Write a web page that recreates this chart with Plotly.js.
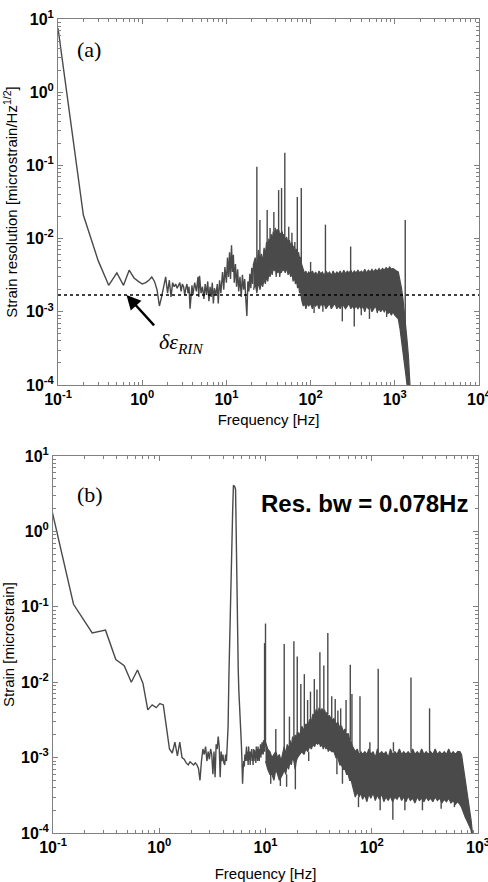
<!DOCTYPE html>
<html>
<head>
<meta charset="utf-8">
<script src="https://cdn.plot.ly/plotly-3.0.1.min.js"></script>
<style>
  html, body { margin: 0; padding: 0; background: #fff; }
  #chart { width: 488px; height: 882px; }
</style>
</head>
<body>
<div id="chart"></div>
<script>
// ---------- (a) strain resolution spectrum ----------
const aLineFreq = [0.1, 0.2, 0.3, 0.4, 0.5, 0.6, 0.7, 0.8, 0.9, 1.0,
  1.1, 1.2, 1.3, 1.4, 1.5, 1.6, 1.7, 1.8, 1.9, 2.0,
  2.1, 2.2, 2.3, 2.4, 2.5, 2.6, 2.7, 2.8, 2.9, 3.0,
  3.1, 3.2, 3.3, 3.4, 3.5, 3.6, 3.7, 3.8, 3.9, 4.0,
  4.2, 4.4, 4.6, 4.7, 4.8, 5.0, 5.2, 5.4, 5.6, 5.8,
  6.0, 6.2, 6.4, 6.6, 6.8, 7.0, 7.2, 7.5, 7.8, 8.0,
  8.3, 8.6, 9.0, 9.3, 9.6, 10.0, 10.3, 10.6, 10.9, 11.2,
  11.5, 11.8, 12.1, 12.4, 12.8, 13.2, 13.6, 14.0, 14.5, 15.0,
  15.5, 16.0, 16.5, 17.0, 17.5, 18.0, 18.5, 19.0, 19.5, 20.0,
  20.5, 21.0];
const aLineVal = [7.5, 0.021, 0.0050, 0.0023, 0.0034, 0.0023, 0.0037, 0.0029, 0.0026, 0.0024,
  0.0025, 0.0027, 0.0030, 0.0026, 0.0020, 0.0012, 0.0016, 0.0021, 0.0030, 0.0018,
  0.0027, 0.0016, 0.0025, 0.0022, 0.0024, 0.0021, 0.0023, 0.0025, 0.0019, 0.0024,
  0.0022, 0.0017, 0.0021, 0.0024, 0.0018, 0.0022, 0.0011, 0.0020, 0.0023, 0.0017,
  0.0025, 0.0019, 0.0030, 0.0016, 0.0031, 0.0018, 0.0022, 0.0015, 0.0024, 0.0017,
  0.0026, 0.0014, 0.0022, 0.0016, 0.0025, 0.0013, 0.0021, 0.0017, 0.0024, 0.0013,
  0.0027, 0.0018, 0.0035, 0.0020, 0.0041, 0.0025, 0.0055, 0.0030, 0.0065, 0.0028,
  0.0081, 0.0035, 0.0060, 0.0025, 0.0045, 0.0022, 0.0038, 0.0019, 0.0030, 0.0016,
  0.0032, 0.0020, 0.0028, 0.0015, 0.00088, 0.0026, 0.0019, 0.0033, 0.0021, 0.0040,
  0.0024, 0.0045];

const aBandFreq = [21, 22, 23, 24, 25, 26, 27, 28, 29, 30,
  31, 32, 33, 34, 35, 36, 37, 38, 39, 40,
  41, 42, 43, 44, 45, 46, 47, 48, 50, 52,
  54, 56, 58, 60, 62, 64, 66, 68, 70, 72,
  74, 76, 78, 80, 82, 85, 88, 91, 95, 100,
  105, 110, 115, 120, 126, 132, 138, 145, 152, 160,
  168, 176, 185, 195, 205, 215, 225, 236, 248, 260,
  273, 287, 300, 315, 330, 347, 365, 383, 400, 420,
  440, 460, 485, 510, 535, 560, 590, 620, 650, 680,
  715, 750, 790, 830, 870, 910, 950, 1000, 1050, 1100,
  1150, 1200, 1250, 1300, 1350, 1400, 1450, 1500, 1550];
const aBandHi = [0.0045, 0.0055, 0.0040, 0.0070, 0.0050, 0.0062, 0.0048, 0.0075, 0.0060, 0.0090,
  0.0070, 0.0100, 0.0085, 0.0115, 0.0095, 0.0125, 0.0105, 0.0140, 0.0110, 0.0135,
  0.0115, 0.0130, 0.0105, 0.0120, 0.0100, 0.0125, 0.0105, 0.0115, 0.0095, 0.0105,
  0.0085, 0.0095, 0.0080, 0.0088, 0.0072, 0.0080, 0.0065, 0.0072, 0.0060, 0.0065,
  0.0052, 0.0056, 0.0045, 0.0040, 0.0036, 0.0033, 0.0036, 0.0032, 0.0035, 0.0033,
  0.0036, 0.0032, 0.0035, 0.0031, 0.0036, 0.0033, 0.0035, 0.0031, 0.0036, 0.0033,
  0.0035, 0.0031, 0.0036, 0.0032, 0.0035, 0.0033, 0.0036, 0.0032, 0.0037, 0.0033,
  0.0036, 0.0034, 0.0037, 0.0033, 0.0036, 0.0034, 0.0037, 0.0034, 0.0036, 0.0034,
  0.0038, 0.0034, 0.0037, 0.0035, 0.0038, 0.0035, 0.0038, 0.0036, 0.0039, 0.0036,
  0.0039, 0.0037, 0.0040, 0.0038, 0.0041, 0.0038, 0.0039, 0.0037, 0.0036, 0.0035,
  0.0028, 0.0021, 0.0015, 0.0010, 0.00065, 0.00040, 0.00025, 0.00015, 0.00009];
const aBandLo = [0.0020, 0.0024, 0.0018, 0.0026, 0.0020, 0.0025, 0.0022, 0.0028, 0.0024, 0.0030,
  0.0026, 0.0034, 0.0030, 0.0038, 0.0032, 0.0042, 0.0036, 0.0044, 0.0030, 0.0040,
  0.0034, 0.0042, 0.0030, 0.0038, 0.0034, 0.0042, 0.0036, 0.0040, 0.0034, 0.0040,
  0.0032, 0.0036, 0.0030, 0.0034, 0.0026, 0.0030, 0.0024, 0.0027, 0.0021, 0.0024,
  0.0018, 0.0020, 0.0015, 0.0013, 0.0012, 0.0013, 0.0011, 0.0013, 0.0012, 0.0013,
  0.0011, 0.0013, 0.0012, 0.0013, 0.0011, 0.0013, 0.0012, 0.0013, 0.0011, 0.0012,
  0.0013, 0.0011, 0.0012, 0.0013, 0.0011, 0.0012, 0.0011, 0.0013, 0.0012, 0.0011,
  0.0012, 0.0013, 0.0011, 0.0012, 0.0011, 0.0012, 0.0011, 0.0012, 0.0011, 0.0012,
  0.0010, 0.0012, 0.0011, 0.0012, 0.0010, 0.0011, 0.0012, 0.0010, 0.0011, 0.0010,
  0.0011, 0.0010, 0.0011, 0.00095, 0.0010, 0.0009, 0.0010, 0.0009, 0.00085, 0.0008,
  0.0006, 0.00045, 0.0003, 0.0002, 0.00014, 0.0001, 0.00008, 0.00007, 0.00006];

const aSpikeFreq = [23, 25, 30.5, 33, 36.6, 41.7, 45.2, 49.4, 55, 60,
  65, 69.5, 77.5, 100, 150, 299, 1330];
const aSpikeBase = [0.004, 0.005, 0.006, 0.007, 0.008, 0.009, 0.009, 0.009, 0.007, 0.006,
  0.005, 0.005, 0.004, 0.003, 0.003, 0.003, 0.0003];
const aSpikeTop = [0.096, 0.018, 0.0245, 0.014, 0.023, 0.046, 0.049, 0.149, 0.0145, 0.012,
  0.009, 0.037, 0.049, 0.0048, 0.0155, 0.0078, 0.018];

const aDipFreq = [110, 140, 238, 330, 400, 500, 620, 800];
const aDipTop = [0.0013, 0.0013, 0.0013, 0.0012, 0.0012, 0.0012, 0.0011, 0.0011];
const aDipLow = [0.00096, 0.0010, 0.00074, 0.00063, 0.0009, 0.0008, 0.00096, 0.00085];

const rinLevel = 0.0017;   // RIN-limited resolution (dotted line)
const rinSpan = [0.1, 10000];
const rinArrowFreq = 0.65;

// ---------- (b) strain spectrum ----------
const bLineFreq = [0.078, 0.156, 0.234, 0.312, 0.390, 0.468, 0.546, 0.624, 0.702, 0.780,
  0.858, 0.936, 1.014, 1.092, 1.170, 1.248, 1.326, 1.404, 1.482, 1.560,
  1.638, 1.716, 1.794, 1.872, 1.950, 2.028, 2.106, 2.184, 2.262, 2.340,
  2.418, 2.496, 2.574, 2.652, 2.730, 2.808, 2.886, 2.964, 3.042, 3.120,
  3.198, 3.276, 3.354, 3.432, 3.510, 3.588, 3.666, 3.744, 3.822, 3.900,
  3.978, 4.056, 4.134, 4.212, 4.290, 4.368, 4.446, 4.524, 4.602, 4.680,
  4.758, 4.836, 4.914, 4.992, 5.070, 5.148, 5.226, 5.304, 5.382, 5.460,
  5.538, 5.616, 5.694, 5.772, 5.850, 5.928, 6.006, 6.084, 6.162, 6.240,
  6.318, 6.396, 6.474, 6.552, 6.630, 6.708, 6.786, 6.864, 6.942, 7.020,
  7.098, 7.176, 7.254, 7.332, 7.410, 7.488, 7.566, 7.644, 7.722, 7.800,
  7.878, 7.956, 8.034, 8.112, 8.190, 8.268, 8.346, 8.424, 8.502, 8.580,
  8.658, 8.736, 8.814, 8.892, 8.970, 9.048, 9.126, 9.204, 9.282, 9.360,
  9.438, 9.516, 9.594, 9.672, 9.750, 9.828, 9.906, 9.984];
const bLineVal = [7.5, 0.108, 0.045, 0.049, 0.020, 0.0165, 0.0100, 0.0145, 0.0097, 0.0043,
  0.0050, 0.0046, 0.0052, 0.0050, 0.0025, 0.0013, 0.00115, 0.0016, 0.00105, 0.0016,
  0.0010, 0.00095, 0.00085, 0.0008, 0.00088, 0.00084, 0.0008, 0.00085, 0.0008, 0.00072,
  0.0005, 0.0009, 0.0013, 0.0011, 0.0014, 0.0009, 0.0012, 0.00095, 0.0013, 0.0011,
  0.0006, 0.0012, 0.00055, 0.0015, 0.0013, 0.0019, 0.0014, 0.00055, 0.0012, 0.0009,
  0.0011, 0.00085, 0.0008, 0.0011, 0.0009, 0.0015, 0.0026, 0.012, 0.040, 0.15,
  0.40, 0.77, 2.0, 4.1, 4.0, 3.9, 3.6, 0.6, 0.11, 0.040,
  0.0145, 0.0075, 0.0053, 0.0035, 0.0026, 0.0015, 0.0009, 0.00045, 0.0007, 0.0009,
  0.00076, 0.0011, 0.0009, 0.00103, 0.0014, 0.0009, 0.0012, 0.0008, 0.0014, 0.00093,
  0.0012, 0.0008, 0.0012, 0.00103, 0.0013, 0.0009, 0.0011, 0.0008, 0.0013, 0.0010,
  0.00126, 0.0009, 0.0012, 0.00085, 0.0014, 0.0010, 0.0013, 0.0009, 0.0014, 0.0010,
  0.0012, 0.0009, 0.0013, 0.0011, 0.0015, 0.0010, 0.0014, 0.0011, 0.0016, 0.0012,
  0.0015, 0.0011, 0.0017, 0.0013, 0.0016, 0.0012, 0.0016, 0.0014];

const bBandFreq = [10, 10.5, 11, 11.5, 12, 12.5, 13, 13.5, 14, 14.5,
  15, 15.5, 16, 16.5, 17, 17.5, 18, 18.5, 19, 19.5,
  20, 21, 22, 23, 24, 25, 26, 27, 28, 29,
  30, 31, 32, 33, 34, 35, 36, 37, 38, 39,
  40, 42, 44, 46, 48, 50, 52, 54, 56, 58,
  60, 62, 64, 66, 68, 70, 73, 76, 79, 82,
  86, 90, 94, 98, 103, 108, 113, 118, 124, 130,
  136, 143, 150, 157, 165, 173, 182, 191, 200, 210,
  220, 231, 243, 255, 268, 281, 295, 310, 325, 341,
  358, 376, 395, 415, 436, 458, 481, 505, 530, 556,
  584, 613, 643, 675, 700, 720, 740, 760, 780, 800,
  820, 840, 860, 880, 900];
const bBandHi = [0.0016, 0.0013, 0.0012, 0.0010, 0.0011, 0.0012, 0.0010, 0.0011, 0.0009, 0.0012,
  0.0014, 0.0011, 0.0015, 0.0013, 0.0017, 0.0014, 0.0019, 0.0016, 0.0020, 0.0018,
  0.0022, 0.0020, 0.0026, 0.0023, 0.0028, 0.0026, 0.0032, 0.0030, 0.0038, 0.0034,
  0.0044, 0.0038, 0.0046, 0.0040, 0.0045, 0.0039, 0.0043, 0.0037, 0.0040, 0.0035,
  0.0036, 0.0031, 0.0033, 0.0028, 0.0029, 0.0025, 0.0026, 0.0022, 0.0024, 0.0020,
  0.0021, 0.0017, 0.0016, 0.0014, 0.0013, 0.0012, 0.0013, 0.0011, 0.0012, 0.0011,
  0.0012, 0.0011, 0.0013, 0.0011, 0.0012, 0.0010, 0.0013, 0.0011, 0.0012, 0.0011,
  0.0012, 0.0010, 0.0013, 0.0011, 0.0012, 0.0011, 0.0013, 0.0011, 0.0012, 0.0011,
  0.0012, 0.0011, 0.0013, 0.0011, 0.0012, 0.0011, 0.0013, 0.0011, 0.0012, 0.0011,
  0.0012, 0.0011, 0.0013, 0.0011, 0.0012, 0.0011, 0.0012, 0.0011, 0.0013, 0.0011,
  0.0012, 0.0011, 0.0012, 0.0012, 0.0011, 0.00085, 0.00065, 0.0005, 0.0004, 0.00032,
  0.00026, 0.0002, 0.00015, 0.00011, 0.00008];
const bBandLo = [0.0009, 0.0007, 0.0006, 0.0006, 0.0005, 0.0007, 0.0006, 0.0005, 0.00055, 0.0006,
  0.0007, 0.0006, 0.0008, 0.0007, 0.0009, 0.0008, 0.0010, 0.0009, 0.0007, 0.0009,
  0.0010, 0.0011, 0.0012, 0.0011, 0.0013, 0.0012, 0.0014, 0.0013, 0.0015, 0.0014,
  0.0016, 0.0015, 0.0016, 0.0014, 0.0015, 0.0013, 0.0015, 0.0013, 0.0014, 0.0012,
  0.0013, 0.0012, 0.0012, 0.0010, 0.0010, 0.0008, 0.0008, 0.0007, 0.0007, 0.0006,
  0.0006, 0.0005, 0.0005, 0.0004, 0.00035, 0.0003, 0.00035, 0.0003, 0.00034, 0.00028,
  0.00032, 0.00026, 0.00033, 0.00029, 0.00034, 0.00027, 0.00032, 0.00028, 0.00033, 0.00026,
  0.00030, 0.00027, 0.00031, 0.00026, 0.00030, 0.00028, 0.00032, 0.00027, 0.00030, 0.00026,
  0.00031, 0.00027, 0.00029, 0.00025, 0.00030, 0.00027, 0.00029, 0.00026, 0.00030, 0.00027,
  0.00029, 0.00026, 0.00030, 0.00027, 0.00029, 0.00025, 0.00028, 0.00026, 0.00029, 0.00025,
  0.00027, 0.00024, 0.00026, 0.00024, 0.00022, 0.0002, 0.00018, 0.00016, 0.00015, 0.00014,
  0.00013, 0.00012, 0.00011, 0.00009, 0.00007];

const bSpikeFreq = [9.8, 10.0, 12.5, 15.0, 16.8, 18.5, 19.9, 21.5, 23.2, 24.9,
  26.5, 28.8, 30.5, 32.5, 35.4, 38.6, 42.0, 45.3, 48.0, 51.0,
  57.3, 62.8, 65.1, 77.5, 96, 115, 160, 234, 350];
const bSpikeBase = [0.0014, 0.0015, 0.0011, 0.0012, 0.0015, 0.0016, 0.0018, 0.0020, 0.0022, 0.0025,
  0.0030, 0.0035, 0.0040, 0.0040, 0.0040, 0.0038, 0.0030, 0.0028, 0.0027, 0.0025,
  0.0022, 0.0017, 0.0014, 0.0012, 0.0011, 0.0012, 0.0012, 0.0012, 0.0011];
const bSpikeTop = [0.033, 0.060, 0.0024, 0.032, 0.0035, 0.035, 0.022, 0.0095, 0.0128, 0.0058,
  0.0075, 0.011, 0.0080, 0.025, 0.0166, 0.045, 0.0065, 0.006, 0.0042, 0.0045,
  0.0058, 0.017, 0.007, 0.0065, 0.0016, 0.0151, 0.0016, 0.0115, 0.0045];

const bDipFreq = [11.2, 13.8, 15.8, 19.1, 25.5, 47, 53, 75, 120, 158, 205, 300, 450, 600];
const bDipTop = [0.0007, 0.0007, 0.0006, 0.0008, 0.0012, 0.0010, 0.0008, 0.0003, 0.0003, 0.0003, 0.0003, 0.0003, 0.0003, 0.0003];
const bDipLow = [0.00045, 0.00042, 0.00041, 0.00038, 0.0009, 0.0006, 0.00045, 0.00022, 0.0002, 0.00015, 0.0002, 0.0002, 0.00021, 0.00022];

// ---------- axes ----------
const decadeTicksA = [0.1, 1, 10, 100, 1000, 10000];
const decadeTicksB = [0.1, 1, 10, 100, 1000];
const yDecades = [0.0001, 0.001, 0.01, 0.1, 1, 10];
const powerLabel = v => '10<sup>' + Math.round(Math.log10(v)) + '</sup>';

// ---------- drawing ----------
const ink = '#4a4a4a';
const frame = '#808080';

function segments(freqs, from, to) {
  const x = [], y = [];
  freqs.forEach((f, i) => { x.push(f, f, null); y.push(from[i], to[i], null); });
  return { x, y };
}
function bandPolygon(freqs, hi, lo) {
  return {
    x: freqs.concat(freqs.slice().reverse()),
    y: hi.concat(lo.slice().reverse())
  };
}
function panelTraces(xa, ya, lineF, lineV, bandF, bandHi, bandLo, spF, spB, spT, dpF, dpT, dpL) {
  const band = bandPolygon(bandF, bandHi, bandLo);
  const spikes = segments(spF, spB, spT);
  const dips = segments(dpF, dpT, dpL);
  return [
    { type: 'scatter', mode: 'lines', x: lineF, y: lineV, xaxis: xa, yaxis: ya,
      line: { color: ink, width: 1.4 }, hoverinfo: 'skip' },
    { type: 'scatter', mode: 'lines', x: band.x, y: band.y, xaxis: xa, yaxis: ya,
      fill: 'toself', fillcolor: ink, line: { color: ink, width: 1.2 }, hoverinfo: 'skip' },
    { type: 'scatter', mode: 'lines', x: spikes.x, y: spikes.y, xaxis: xa, yaxis: ya,
      line: { color: ink, width: 1.4 }, connectgaps: false, hoverinfo: 'skip' },
    { type: 'scatter', mode: 'lines', x: dips.x, y: dips.y, xaxis: xa, yaxis: ya,
      line: { color: ink, width: 1.4 }, connectgaps: false, hoverinfo: 'skip' }
  ];
}

const traces = panelTraces('x', 'y', aLineFreq, aLineVal, aBandFreq, aBandHi, aBandLo,
  aSpikeFreq, aSpikeBase, aSpikeTop, aDipFreq, aDipTop, aDipLow)
  .concat([{ type: 'scatter', mode: 'lines', x: rinSpan, y: [rinLevel, rinLevel],
    xaxis: 'x', yaxis: 'y', line: { color: '#000', width: 1.5, dash: 'dot' }, hoverinfo: 'skip' }])
  .concat(panelTraces('x2', 'y2', bLineFreq, bLineVal, bBandFreq, bBandHi, bBandLo,
    bSpikeFreq, bSpikeBase, bSpikeTop, bDipFreq, bDipTop, bDipLow));

const W = 488, H = 882;
const tickFont = { family: 'Liberation Sans, Arial, sans-serif', size: 16, color: '#000', weight: 'bold' };
const titleFont = { family: 'Liberation Sans, Arial, sans-serif', size: 15, color: '#000' };
const serifFont = { family: 'Liberation Serif, Times New Roman, serif', size: 22, color: '#000' };

function logAxis(opts) {
  return Object.assign({
    type: 'log', showgrid: false, zeroline: false,
    showline: true, linecolor: frame, linewidth: 1, mirror: 'allticks',
    ticks: 'inside', ticklen: 5, tickcolor: frame, tickwidth: 1,
    minor: { ticks: 'inside', ticklen: 3, tickcolor: frame, dtick: 'D1', showgrid: false },
    tickmode: 'array', tickfont: tickFont, automargin: false, fixedrange: true,
    ticklabeloverflow: 'allow'
  }, opts);
}

const layout = {
  width: W, height: H,
  margin: { l: 0, r: 0, t: 0, b: 0 },
  paper_bgcolor: '#fff', plot_bgcolor: '#fff',
  showlegend: false,
  xaxis: logAxis({
    domain: [58 / W, 479 / W], anchor: 'y', range: [-1, 4],
    tickvals: decadeTicksA, ticktext: decadeTicksA.map(powerLabel),
    title: { text: 'Frequency [Hz]', font: titleFont, standoff: 7 }
  }),
  yaxis: logAxis({
    domain: [1 - 385 / H, 1 - 19 / H], anchor: 'x', range: [-4, 1],
    tickvals: yDecades, ticktext: yDecades.map(powerLabel),
    title: { text: 'Strain resolution [microstrain/Hz<sup>1/2</sup>]', font: titleFont, standoff: 4 }
  }),
  xaxis2: logAxis({
    domain: [53 / W, 478 / W], anchor: 'y2', range: [-1, 3],
    tickvals: decadeTicksB, ticktext: decadeTicksB.map(powerLabel),
    title: { text: 'Frequency [Hz]', font: titleFont, standoff: 14 }
  }),
  yaxis2: logAxis({
    domain: [1 - 833 / H, 1 - 456 / H], anchor: 'x2', range: [-4, 1],
    tickvals: yDecades, ticktext: yDecades.map(powerLabel),
    title: { text: 'Strain [microstrain]', font: titleFont, standoff: 4 }
  }),
  annotations: [
    { xref: 'paper', yref: 'paper', x: 89 / W, y: 1 - 50 / H, xanchor: 'center', yanchor: 'middle',
      text: '(a)', showarrow: false, font: serifFont },
    { xref: 'paper', yref: 'paper', x: 90 / W, y: 1 - 494 / H, xanchor: 'center', yanchor: 'middle',
      text: '(b)', showarrow: false, font: serifFont },
    { xref: 'paper', yref: 'paper', x: 364 / W, y: 1 - 503 / H, xanchor: 'center', yanchor: 'middle',
      text: 'Res. bw = 0.078Hz', showarrow: false,
      font: { family: 'Liberation Sans, Arial, sans-serif', size: 24, color: '#000', weight: 'bold' } },
    { xref: 'paper', yref: 'paper', x: 157 / W, y: 1 - 343 / H, xanchor: 'left', yanchor: 'middle',
      text: '<i>δε<sub>RIN</sub></i>', showarrow: false, font: serifFont },
    { xref: 'x', yref: 'y', x: Math.log10(rinArrowFreq), y: Math.log10(rinLevel), text: '',
      showarrow: true, arrowhead: 2, arrowsize: 1.2, arrowwidth: 2.4, arrowcolor: '#000',
      ax: 29, ay: 32 }
  ]
};

Plotly.newPlot('chart', traces, layout, { staticPlot: true, displayModeBar: false });
</script>
</body>
</html>
